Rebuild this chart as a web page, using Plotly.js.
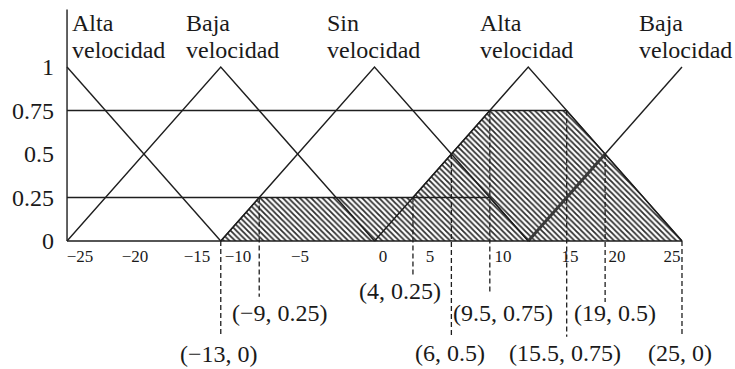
<!DOCTYPE html>
<html>
<head>
<meta charset="utf-8">
<script src="https://cdn.plot.ly/plotly-3.0.1.min.js"></script>
<style>
  html, body { margin: 0; padding: 0; background: #fff; }
  #chart { width: 735px; height: 369px; }
</style>
</head>
<body>
<div id="chart"></div>
<script>
// conjuntos difusos (triangulos)
const setWords1 = ['Alta', 'Baja', 'Sin', 'Alta', 'Baja'];
const setWords2 = ['velocidad', 'velocidad', 'velocidad', 'velocidad', 'velocidad'];
const altaIzqX = [-25, -12.5];
const altaIzqY = [1, 0];
const bajaX = [-25, -12.5, 0];
const bajaY = [0, 1, 0];
const sinX = [-12.5, 0, 12.5];
const sinY = [0, 1, 0];
const altaDerX = [0, 12.5, 25];
const altaDerY = [0, 1, 0];
const bajaDerX = [12.5, 25];
const bajaDerY = [0, 1];

// conjuntos recortados
const sinCutX = [-12.5, -9.375, 9.375, 12.5];
const sinCutY = [0, 0.25, 0.25, 0];
const altaCutX = [0, 9.375, 15.625, 25];
const altaCutY = [0, 0.75, 0.75, 0];
const bajaCutX = [12.5, 18.75];
const bajaCutY = [0, 0.5];

// niveles de corte
const nivel75X = [-25, 15.625];
const nivel25X = [-25, 9.375];

// puntos marcados
const puntosX = [-12.5, -9.375, 3.125, 6.25, 9.375, 15.625, 18.75, 25];
const puntosY = [0, 0.25, 0.25, 0.5, 0.75, 0.75, 0.5, 0];
const puntosTxt = ['(\u221213, 0)', '(\u22129, 0.25)', '(4, 0.25)', '(6, 0.5)',
                   '(9.5, 0.75)', '(15.5, 0.75)', '(19, 0.5)', '(25, 0)'];

const xTickText = ['\u221225', '\u221220', '\u221215', '\u221210', '\u22125', '0', '5', '10', '15', '20', '25'];
const yTickVals = [0, 0.25, 0.5, 0.75, 1];
const yTickText = ['0', '0.25', '0.5', '0.75', '1'];

// colocacion (como en el dibujo original)
const xTickPos = [-23.94, -19.47, -14.43, -11.10, -6.06, 0.69, 4.51, 10.45, 15.89, 19.72, 24.19];
const guiaFin = [-0.55, -0.32, -0.2, -0.55, -0.3, -0.55, -0.35, -0.55];
const etiqX = [-12.64, -7.68, 2.07, 6.14, 10.45, 15.49, 19.55, 24.84];
const etiqY = [-0.65, -0.415, -0.285, -0.645, -0.415, -0.645, -0.415, -0.645];
const nombreX = [-24.76, -15.49, -4.02, 8.41, 21.34];

const ink = '#1e1e1e';
const serif = "'Liberation Serif', 'Times New Roman', serif";

function line(x, y, extra) {
    return Object.assign({
        type: 'scatter', mode: 'lines', x: x, y: y,
        line: { color: ink, width: 1.4 },
        hoverinfo: 'skip', showlegend: false
    }, extra || {});
}

function hatch(x, y) {
    return {
        type: 'scatter', mode: 'lines', x: x, y: y, fill: 'toself',
        fillcolor: 'rgba(0,0,0,0)',
        fillpattern: { shape: '\\', size: 4, solidity: 0.45, fgcolor: '#2e2e2e', bgcolor: 'white' },
        line: { color: ink, width: 1.2 },
        hoverinfo: 'skip', showlegend: false
    };
}

const data = [
    hatch(altaCutX, altaCutY),
    hatch(sinCutX, sinCutY),
    line(nivel75X, [0.75, 0.75]),
    line(nivel25X, [0.25, 0.25]),
    line(altaIzqX, altaIzqY),
    line(bajaX, bajaY),
    line(sinX, sinY),
    line(altaDerX, altaDerY),
    line(bajaDerX, bajaDerY),
    line(bajaCutX, bajaCutY, { line: { color: '#3a3a3a', width: 3 } }),
    // ejes
    line([-25, 25], [0, 0]),
    line([-25, -25], [0, 1.33])
];

puntosX.forEach((px, i) => {
    data.push(line([px, px], [puntosY[i], guiaFin[i]], { line: { color: ink, width: 1.3, dash: '5px,3px' } }));
});

const annotations = [];
setWords1.forEach((w, i) => {
    annotations.push({ x: nombreX[i], y: 1.253, text: w, showarrow: false, xanchor: 'left', yanchor: 'middle',
        font: { family: serif, size: 24, color: '#1a1a1a' } });
    annotations.push({ x: nombreX[i], y: 1.1, text: setWords2[i], showarrow: false, xanchor: 'left', yanchor: 'middle',
        font: { family: serif, size: 24, color: '#1a1a1a' } });
});
puntosTxt.forEach((t, i) => {
    annotations.push({ x: etiqX[i], y: etiqY[i], text: t, showarrow: false, xanchor: 'center', yanchor: 'middle',
        font: { family: serif, size: 24, color: '#1a1a1a' } });
});

const layout = {
    width: 735, height: 369,
    margin: { l: 0, r: 0, t: 0, b: 0 },
    paper_bgcolor: 'white', plot_bgcolor: 'white',
    xaxis: {
        range: [-30.45, 29.31], anchor: 'free', position: 128 / 369,
        showgrid: false, zeroline: false, showline: false, ticks: '',
        tickvals: xTickPos, ticktext: xTickText, ticklabelstandoff: 3,
        tickfont: { family: serif, size: 17, color: '#1a1a1a' }
    },
    yaxis: {
        range: [-128 / 174, 241 / 174], anchor: 'free', position: 67 / 735,
        showgrid: false, zeroline: false, showline: false, ticks: '',
        tickvals: yTickVals, ticktext: yTickText, ticklabelstandoff: 13,
        tickfont: { family: serif, size: 24, color: '#1a1a1a' }
    },
    annotations: annotations
};

Plotly.newPlot('chart', data, layout, { staticPlot: true });
</script>
</body>
</html>
